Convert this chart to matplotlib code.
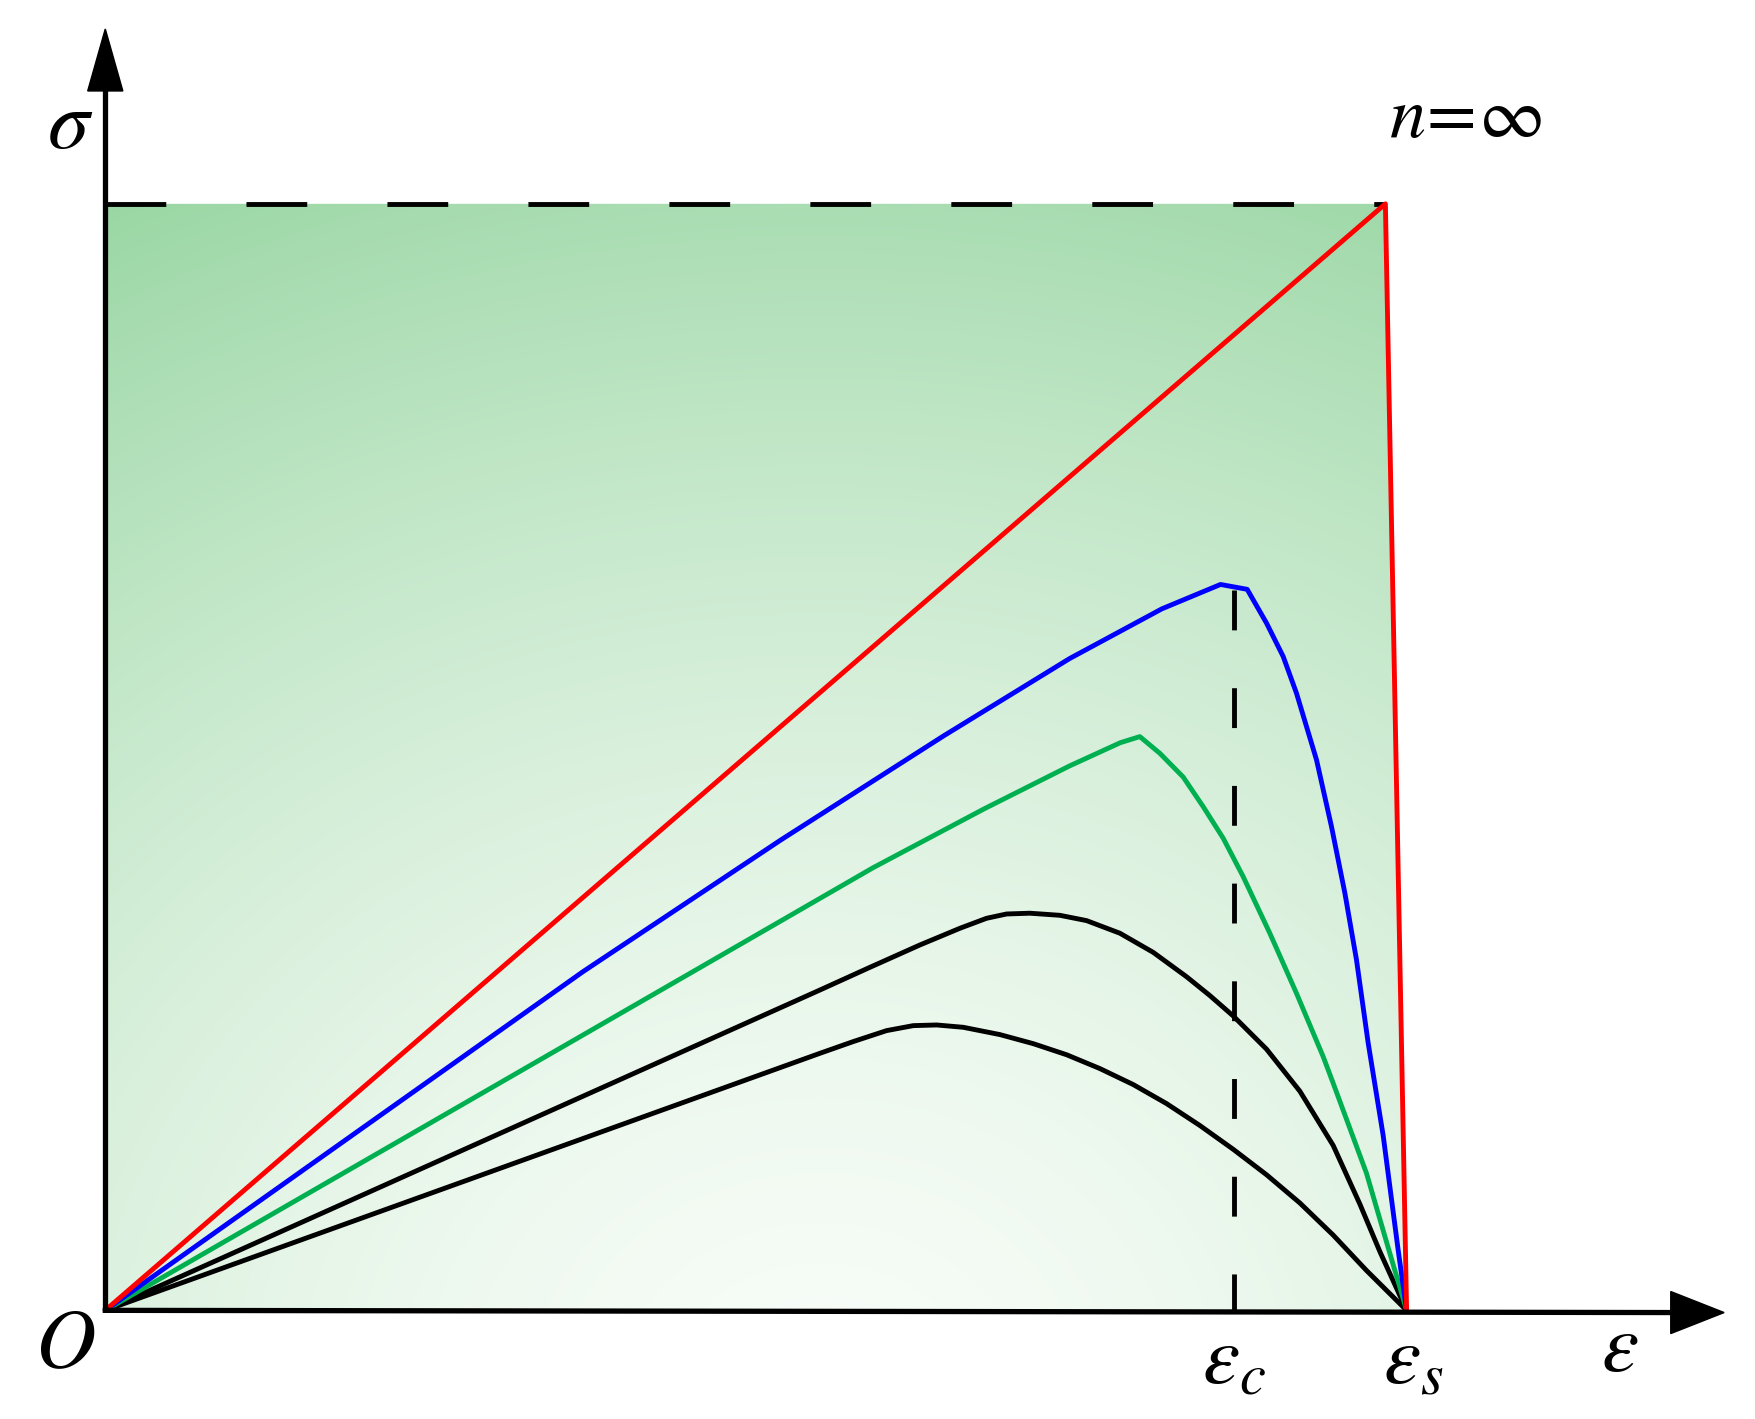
import numpy as np
import matplotlib
matplotlib.use('Agg')
import matplotlib.pyplot as plt
from matplotlib.patches import Polygon

plt.rcParams['mathtext.fontset'] = 'stix'

# strain / stress values (eps_s = 1, sigma_max = 1)
eps_c = 0.8675
eps_s = 1.0
eps_peak_inf = 0.9837   # n = infinity peak strain
sig_max = 1.0
sig_c_top = 0.651       # top of the eps_c guide line

red_eps = [0.0, eps_peak_inf, eps_s]
red_sig = [0.0, sig_max, 0.0]

blue_eps = [0.0, 0.367, 0.519, 0.644, 0.741, 0.812, 0.857, 0.8775, 0.8924, 0.9052,
            0.9154, 0.9308, 0.9423, 0.9526, 0.9615, 0.9705, 0.982, 0.9935, 1.0]
blue_sig = [0.0, 0.306, 0.425, 0.519, 0.589, 0.634, 0.656, 0.6516, 0.621, 0.5908,
            0.5577, 0.4974, 0.4371, 0.3769, 0.3167, 0.2414, 0.158, 0.0546, 0.0]

green_eps = [0.0, 0.478, 0.590, 0.675, 0.741, 0.780, 0.795, 0.8104, 0.8283, 0.8437,
             0.8591, 0.8744, 0.8949, 0.9154, 0.9359, 0.9436, 0.9692, 0.9871, 1.0]
green_sig = [0.0, 0.324, 0.400, 0.453, 0.492, 0.513, 0.5185, 0.5034, 0.482, 0.4552,
             0.4266, 0.392, 0.3408, 0.2865, 0.2293, 0.2052, 0.1238, 0.0516, 0.0]

black1_eps = [0.0, 0.5492, 0.5876, 0.626, 0.6568, 0.6772, 0.6926, 0.7105, 0.7336,
              0.7541, 0.7797, 0.8053, 0.8309, 0.8488, 0.8668, 0.8924, 0.918, 0.9436,
              0.9641, 0.9795, 1.0]
black1_sig = [0.0, 0.2895, 0.310, 0.3302, 0.3453, 0.3543, 0.3582, 0.3589, 0.357,
              0.3522, 0.3408, 0.3235, 0.3015, 0.2845, 0.266, 0.236, 0.198, 0.149,
              0.096, 0.053, 0.0]

black2_eps = [0.0, 0.5492, 0.5748, 0.6004, 0.6209, 0.6388, 0.6593, 0.6875, 0.7131,
              0.7387, 0.7643, 0.790, 0.8156, 0.8412, 0.8668, 0.8924, 0.918, 0.9436,
              0.9692, 1.0]
black2_sig = [0.0, 0.2323, 0.2429, 0.2528, 0.2573, 0.2579, 0.2558, 0.2492, 0.241,
              0.231, 0.2185, 0.204, 0.1868, 0.167, 0.1455, 0.1225, 0.097, 0.068,
              0.036, 0.0]

fig = plt.figure(figsize=(17.56, 14.19), dpi=100)
ax = fig.add_axes([0, 0, 1, 1])
ax.set_xlim(-0.0809, 1.2685)
ax.set_ylim(-0.0982, 1.1842)
ax.axis('off')

# green radial gradient inside the envelope of n = infinity
region = Polygon([(0, 0), (0, sig_max), (eps_peak_inf, sig_max), (eps_s, 0)],
                 closed=True, facecolor='none', edgecolor='none')
ax.add_patch(region)
gx, gy = np.meshgrid(np.linspace(0, 1.0, 400), np.linspace(0, 1.0, 400))
d = np.sqrt((gx - 0.55) ** 2 + (gy + 0.08) ** 2)
t = np.clip(d / 1.22, 0, 1) ** 1.6
c_in = np.array([0.97, 0.99, 0.97])
c_out = np.array([0.60, 0.84, 0.64])
img = c_in[None, None, :] * (1 - t[..., None]) + c_out[None, None, :] * t[..., None]
im = ax.imshow(img, extent=[0, 1.0, 0, 1.0], origin='lower', aspect='auto',
               interpolation='bilinear', zorder=0)
im.set_clip_path(region)

lw = 3.5
# dashed guide lines
ax.plot([0, eps_peak_inf], [sig_max, sig_max], color='black', lw=lw,
        dashes=(12.5, 16.5), zorder=2)
ax.plot([eps_c, eps_c], [sig_c_top, 0], color='black', lw=lw,
        dashes=(8.2, 11.9), zorder=2)

# curves
kw = dict(lw=lw, solid_joinstyle='round', solid_capstyle='round')
ax.plot(black2_eps, black2_sig, color='black', zorder=3, **kw)
ax.plot(black1_eps, black1_sig, color='black', zorder=3, **kw)
ax.plot(green_eps, green_sig, color='#00b050', zorder=4, **kw)
ax.plot(blue_eps, blue_sig, color='#0000ff', zorder=5, **kw)
ax.plot(red_eps, red_sig, color='#ff0000', zorder=6, **kw)

# axes with arrow heads
ax.plot([0, 0], [0, 1.105], color='black', lw=lw + 0.3, zorder=7, solid_capstyle='butt')
ax.plot([-0.002, 1.205], [0, -0.002], color='black', lw=lw + 0.3, zorder=7,
        solid_capstyle='butt')
ax.add_patch(Polygon([(-0.0135, 1.102), (0.0135, 1.102), (0, 1.158)],
                     closed=True, color='black', zorder=8))
ax.add_patch(Polygon([(1.203, 0.017), (1.203, -0.021), (1.244, -0.002)],
                     closed=True, color='black', zorder=8))

# labels
fs = 60
ax.text(-0.027, 1.072, r'$\sigma$', fontsize=fs, ha='center', va='center')
ax.text(-0.031, -0.030, r'$O$', fontsize=fs, ha='center', va='center')
ax.text(0.867, -0.045, r'$\varepsilon_c$', fontsize=fs, ha='center', va='center')
ax.text(1.005, -0.045, r'$\varepsilon_s$', fontsize=fs, ha='center', va='center')
ax.text(1.164, -0.034, r'$\varepsilon$', fontsize=fs, ha='center', va='center')
ax.text(1.045, 1.078, r'$n\!=\!\infty$', fontsize=52, ha='center', va='center')

fig.savefig('out.png', dpi=100)
